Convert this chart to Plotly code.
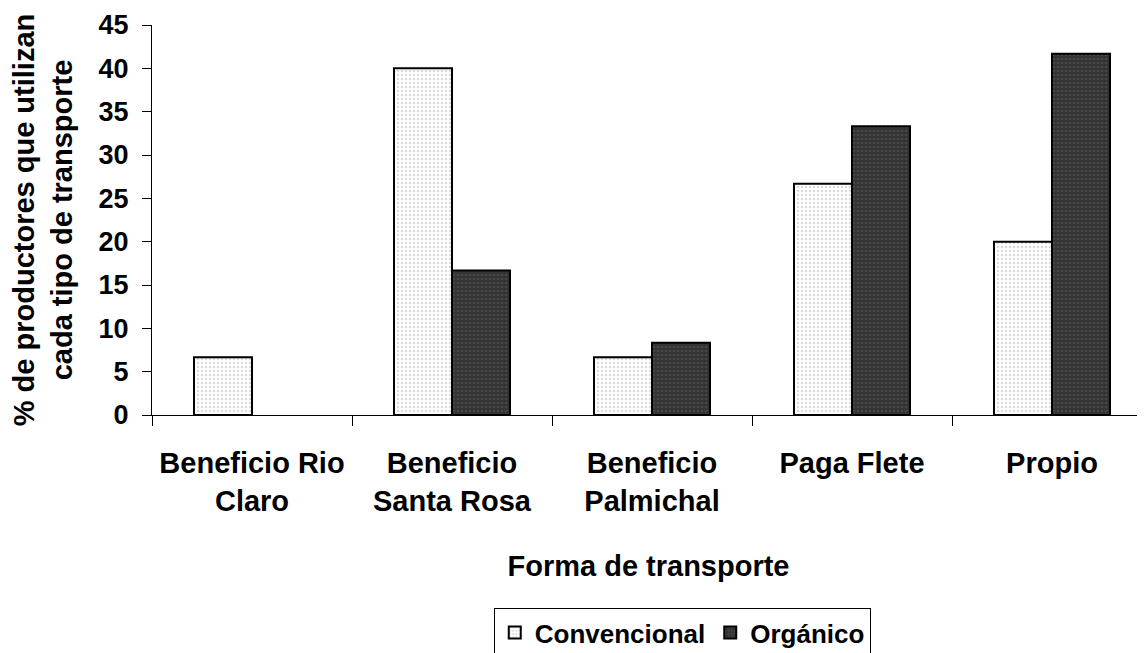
import plotly.graph_objects as go

categorias = ["Beneficio Rio<br>Claro", "Beneficio<br>Santa Rosa", "Beneficio<br>Palmichal",
              "Paga Flete", "Propio"]
convencional = [6.67, 40.0, 6.67, 26.67, 20.0]
organico = [None, 16.67, 8.33, 33.33, 41.67]

FONT = "Arial, Liberation Sans, sans-serif"

fig = go.Figure()
fig.add_trace(go.Bar(
    x=categorias, y=convencional, name="Convencional",
    marker=dict(color="white", line=dict(color="black", width=2),
                pattern=dict(shape=".", bgcolor="white", fgcolor="#b8b8b8",
                             size=4, solidity=0.35)),
))
fig.add_trace(go.Bar(
    x=categorias, y=organico, name="Orgánico",
    marker=dict(color="#333333", line=dict(color="black", width=2),
                pattern=dict(shape=".", bgcolor="#333333", fgcolor="#5c5c5c",
                             size=4, solidity=0.35)),
))

# page body has an 8px margin, so the figure is sized 8px smaller
W, H = 1137, 645
fig.update_layout(
    width=W, height=H,
    margin=dict(l=144, r=0, t=17, b=238, autoexpand=False),
    paper_bgcolor="white", plot_bgcolor="white",
    barmode="group", bargap=0.42, bargroupgap=0,
    font=dict(family=FONT, color="black", size=27),
    showlegend=True,
    legend=dict(orientation="h", x=0.534, xanchor="center",
                yref="container", y=1 - 600 / H, yanchor="top",
                bordercolor="black", borderwidth=1, bgcolor="white",
                font=dict(size=26, family=FONT, weight="bold"),
                itemwidth=30, tracegroupgap=0),
)

fig.update_xaxes(
    type="category", range=[-0.5, 4.465],
    showline=True, linecolor="black", linewidth=1,
    ticks="outside", tickson="boundaries", ticklen=10, tickcolor="black",
    ticklabelstandoff=22,
    tickfont=dict(size=29, family=FONT, weight="bold"),
    showgrid=False,
    title=dict(text="Forma de transporte", standoff=40,
               font=dict(size=29, family=FONT, weight="bold")),
)
fig.update_yaxes(
    range=[0, 45], dtick=5,
    showline=True, linecolor="black", linewidth=1,
    ticks="outside", ticklen=9, tickcolor="black",
    ticklabelstandoff=8,
    tickfont=dict(size=27, family=FONT, weight="bold"),
    showgrid=False, zeroline=False,
    title=dict(text="% de productores que utilizan<br>cada tipo de transporte", standoff=18,
               font=dict(size=29, family=FONT, weight="bold")),
)

fig.write_html("out.html")
